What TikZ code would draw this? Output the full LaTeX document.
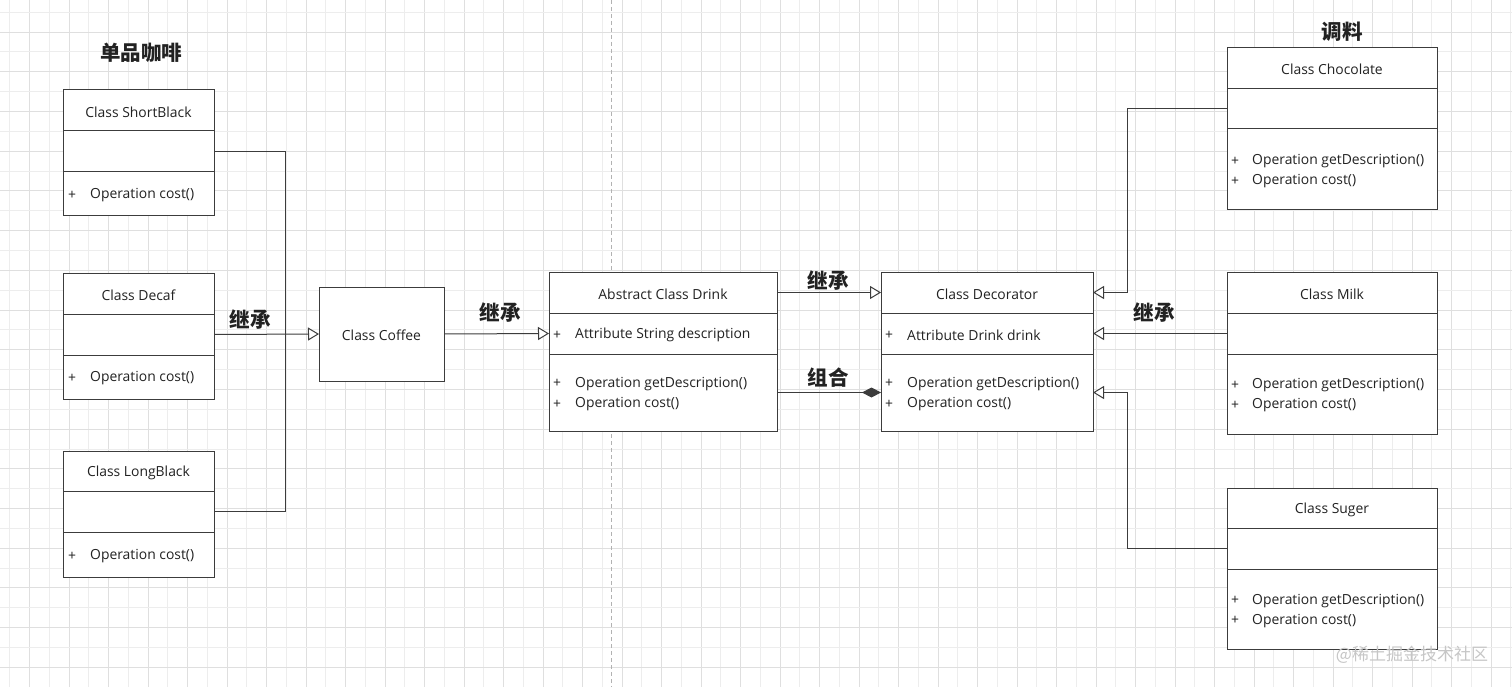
\documentclass[tikz,border=0pt]{standalone}
\usepackage{fontspec}
\setmainfont{Open Sans}
\newfontfamily\cjk{Noto Sans CJK SC}
\usetikzlibrary{arrows.meta,calc}
\definecolor{gridminor}{HTML}{EDEDED}
\definecolor{gridmajor}{HTML}{DFDFDF}
\definecolor{boxline}{HTML}{3C3C3C}
\definecolor{txtc}{HTML}{222222}
\tikzset{
  comp/.style={draw=boxline, line width=1pt, fill=white, inner sep=0pt, outer sep=0pt, rectangle},
  txt/.style={inner sep=0pt, text=txtc, font=\fontsize{13.9}{15}\selectfont, yshift=-1.5pt},
  memb/.style={txt, anchor=west},
  lbl/.style={inner sep=0pt, text=txtc, font=\cjk\bfseries\fontsize{20.5}{22}\selectfont},
  conn/.style={draw=boxline, line width=1pt},
  inh/.style={conn, -{Triangle[open, length=11pt, width=13pt, fill=white]}},
  compo/.style={conn, -{Diamond[length=19pt, width=10pt, fill=boxline]}},
}
\newcommand\umlbox[7]{%
  \node[comp, minimum width=#4pt, minimum height=#5pt, anchor=north west] (#1-t) at (#2,#3) {};
  \node[comp, minimum width=#4pt, minimum height=#6pt, anchor=north] (#1-a) at (#1-t.south) {};
  \node[comp, minimum width=#4pt, minimum height=#7pt, anchor=north] (#1-o) at (#1-a.south) {};
}
\begin{document}
\begin{tikzpicture}[x=1pt,y=-1pt]
\useasboundingbox (0,0) rectangle (1512,687);
\fill[white] (0,0) rectangle (1512,687);
% grid
\foreach \i in {0,...,76} {
  \pgfmathsetmacro\gx{9.75+\i*19.75}
  \pgfmathtruncatemacro\odd{mod(\i,2)}
  \ifnum\odd=1 \draw[gridmajor, line width=1pt] (\gx,0) -- (\gx,687);
  \else \draw[gridminor, line width=1pt] (\gx,0) -- (\gx,687); \fi
}
\foreach \j in {0,...,33} {
  \pgfmathsetmacro\gy{12.3+\j*19.85}
  \pgfmathtruncatemacro\odd{mod(\j,2)}
  \ifnum\odd=1 \draw[gridmajor, line width=1pt] (0,\gy) -- (1512,\gy);
  \else \draw[gridminor, line width=1pt] (0,\gy) -- (1512,\gy); \fi
}
\draw[gray!60, line width=0.8pt, dash pattern=on 4pt off 3pt] (611,0) -- (611,687);

% left classes
\umlbox{sb}{63}{90}{151}{41}{41}{44}
\node[txt] (sb-n) at (sb-t) {Class ShortBlack};
\node[memb] (sb-p1) at ([xshift=5pt]sb-o.west) {+};
\node[memb] (sb-m1) at ([xshift=27pt]sb-o.west) {Operation cost()};

\umlbox{dc}{63}{273}{151}{41}{41}{44}
\node[txt] (dc-n) at (dc-t) {Class Decaf};
\node[memb] (dc-p1) at ([xshift=5pt]dc-o.west) {+};
\node[memb] (dc-m1) at ([xshift=27pt]dc-o.west) {Operation cost()};

\umlbox{lb}{63}{451}{151}{40}{41}{45}
\node[txt] (lb-n) at (lb-t) {Class LongBlack};
\node[memb] (lb-p1) at ([xshift=5pt]lb-o.west) {+};
\node[memb] (lb-m1) at ([xshift=27pt]lb-o.west) {Operation cost()};

% coffee
\node[comp, minimum width=125pt, minimum height=94pt, anchor=north west] (cof) at (319,287) {};
\node[txt] (cof-n) at (cof) {Class Coffee};

% drink
\umlbox{dr}{549}{272}{228}{41}{41}{77}
\node[txt] (dr-n) at (dr-t) {Abstract Class Drink};
\node[memb] (dr-p0) at ([xshift=4pt]dr-a.west) {+};
\node[memb] (dr-m0) at ([xshift=26pt]dr-a.west) {Attribute String description};
\node[memb] (dr-p1) at ([xshift=4pt,yshift=10.25pt]dr-o.west) {+};
\node[memb] (dr-m1) at ([xshift=26pt,yshift=10.25pt]dr-o.west) {Operation getDescription()};
\node[memb] (dr-p2) at ([xshift=4pt,yshift=-10.25pt]dr-o.west) {+};
\node[memb] (dr-m2) at ([xshift=26pt,yshift=-10.25pt]dr-o.west) {Operation cost()};

% decorator
\umlbox{de}{881}{272}{212}{41}{41}{77}
\node[txt] (de-n) at (de-t) {Class Decorator};
\node[memb] (de-p0) at ([xshift=4pt]de-a.west) {+};
\node[memb] (de-m0) at ([xshift=26pt]de-a.west) {Attribute Drink drink};
\node[memb] (de-p1) at ([xshift=4pt,yshift=10.25pt]de-o.west) {+};
\node[memb] (de-m1) at ([xshift=26pt,yshift=10.25pt]de-o.west) {Operation getDescription()};
\node[memb] (de-p2) at ([xshift=4pt,yshift=-10.25pt]de-o.west) {+};
\node[memb] (de-m2) at ([xshift=26pt,yshift=-10.25pt]de-o.west) {Operation cost()};

% condiments
\umlbox{ch}{1227}{47.5}{210}{41}{40.5}{81}
\node[txt] (ch-n) at (ch-t) {Class Chocolate};
\node[memb] (ch-p1) at ([xshift=4pt,yshift=10pt]ch-o.west) {+};
\node[memb] (ch-m1) at ([xshift=25pt,yshift=10pt]ch-o.west) {Operation getDescription()};
\node[memb] (ch-p2) at ([xshift=4pt,yshift=-10pt]ch-o.west) {+};
\node[memb] (ch-m2) at ([xshift=25pt,yshift=-10pt]ch-o.west) {Operation cost()};

\umlbox{mi}{1227}{272}{210}{41}{41}{80}
\node[txt] (mi-n) at (mi-t) {Class Milk};
\node[memb] (mi-p1) at ([xshift=4pt,yshift=10pt]mi-o.west) {+};
\node[memb] (mi-m1) at ([xshift=25pt,yshift=10pt]mi-o.west) {Operation getDescription()};
\node[memb] (mi-p2) at ([xshift=4pt,yshift=-10pt]mi-o.west) {+};
\node[memb] (mi-m2) at ([xshift=25pt,yshift=-10pt]mi-o.west) {Operation cost()};

\umlbox{su}{1227}{488}{210}{40.5}{40.5}{80.5}
\node[txt] (su-n) at (su-t) {Class Suger};
\node[memb] (su-p1) at ([xshift=4pt,yshift=10pt]su-o.west) {+};
\node[memb] (su-m1) at ([xshift=25pt,yshift=10pt]su-o.west) {Operation getDescription()};
\node[memb] (su-p2) at ([xshift=4pt,yshift=-10pt]su-o.west) {+};
\node[memb] (su-m2) at ([xshift=25pt,yshift=-10pt]su-o.west) {Operation cost()};

% connectors
\coordinate (jl) at (285,0);
\coordinate (jr) at (1127,0);
\draw[conn] (sb-a.east) -| (jl |- dc-a.east);
\draw[conn] (lb-a.east) -| (jl |- dc-a.east);
\draw[inh] (dc-a.east) -- (cof.west);
\draw[inh] (cof.east) -- (dr-a.west);
\draw[inh] (dr-t.east) -- (de-t.west);
\draw[compo] (dr-o.east) -- (de-o.west);
\draw[inh] (ch-a.west) -| (jr |- de-t.east) -- (de-t.east);
\draw[inh] (mi-a.west) -- (de-a.east);
\draw[inh] (su-a.west) -| (jr |- de-o.east) -- (de-o.east);

% labels
\node[lbl] (l-single) at (141,53) {单品咖啡};
\node[lbl] (l-cond) at (1342,32) {调料};
\node[lbl] (l-inh1) at (250,320) {继承};
\node[lbl] (l-inh2) at (500,313) {继承};
\node[lbl] (l-inh3) at (828,281) {继承};
\node[lbl] (l-inh4) at (1154,313) {继承};
\node[lbl] (l-comp) at (828,378) {组合};
\node[inner sep=0pt, text=gray!45, font=\cjk\fontsize{17}{18}\selectfont] (wm) at (1412,655) {@稀土掘金技术社区};
\end{tikzpicture}
\end{document}
